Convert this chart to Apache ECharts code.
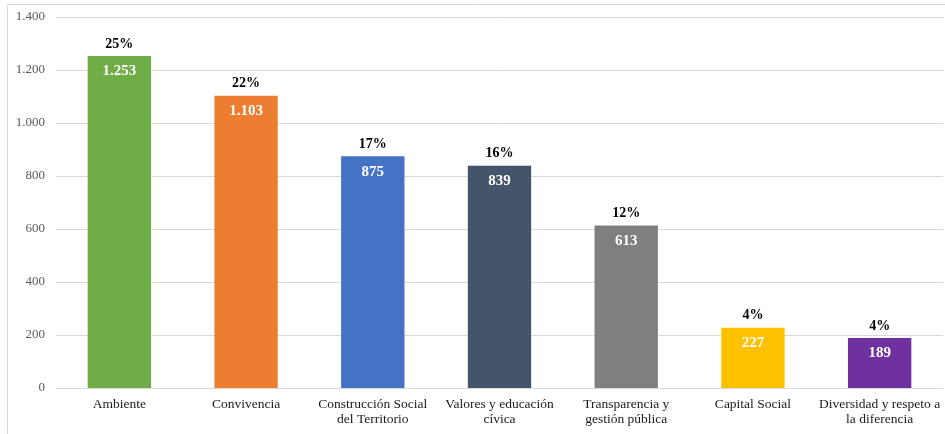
<!DOCTYPE html>
<html>
<head>
<meta charset="utf-8">
<script src="https://cdn.jsdelivr.net/npm/echarts@6/dist/echarts.min.js"></script>
<style>
html,body{margin:0;padding:0;background:#fff;}
#c{width:945px;height:434px;}
</style>
</head>
<body>
<div id="c"></div>
<script>
var categories = ["Ambiente","Convivencia","Construcción Social\ndel Territorio","Valores y educación\ncívica","Transparencia y\ngestión pública","Capital Social","Diversidad y respeto a\nla diferencia"];
var values = [1253,1103,875,839,613,227,189];
var percents = ["25%","22%","17%","16%","12%","4%","4%"];
var colors = ["#70AD47","#ED7D31","#4472C4","#44546A","#7F7F7F","#FFC000","#7030A0"];
var yMin = 0, yMax = 1400, yStep = 200;

function fmt(n){ return String(n).replace(/\B(?=(\d{3})+(?!\d))/g, "."); }

var chart = echarts.init(document.getElementById('c'));
chart.setOption({
  animation:false,
  backgroundColor:'#fff',
  textStyle:{fontFamily:'Liberation Serif'},
  graphic:[{type:'rect',shape:{x:7.5,y:4.5,width:945,height:432},style:{fill:'none',stroke:'#D9D9D9',lineWidth:1},silent:true,z:-1}],
  grid:{left:56,right:2,top:17,bottom:46},
  xAxis:{
    type:'category',
    data:categories,
    axisTick:{show:false},
    axisLine:{lineStyle:{color:'#D9D9D9'}},
    axisLabel:{color:'#1a1a1a',fontSize:13.5,fontFamily:'Liberation Serif',lineHeight:15,margin:9,interval:0}
  },
  yAxis:{
    type:'value',min:yMin,max:yMax,interval:yStep,
    axisLine:{show:false},axisTick:{show:false},
    splitLine:{lineStyle:{color:'#D9D9D9'}},
    axisLabel:{color:'#595959',fontSize:13,fontFamily:'Liberation Serif',margin:11,formatter:function(v){return fmt(v);}}
  },
  series:[
    {
      type:'bar',barWidth:'50%',
      data:values.map(function(v,i){return {value:v,itemStyle:{color:colors[i]}};}),
      label:{show:true,position:'insideTop',distance:8,color:'#fff',fontWeight:'bold',fontSize:15,fontFamily:'Liberation Serif',formatter:function(p){return fmt(p.value);}}
    },
    {
      type:'bar',barWidth:'50%',barGap:'-100%',
      data:values,
      itemStyle:{color:'rgba(0,0,0,0)'},
      silent:true,
      label:{show:true,position:'top',distance:5,color:'#000',fontWeight:'bold',fontSize:14,fontFamily:'Liberation Serif',formatter:function(p){return percents[p.dataIndex];}}
    }
  ]
});
</script>
</body>
</html>
